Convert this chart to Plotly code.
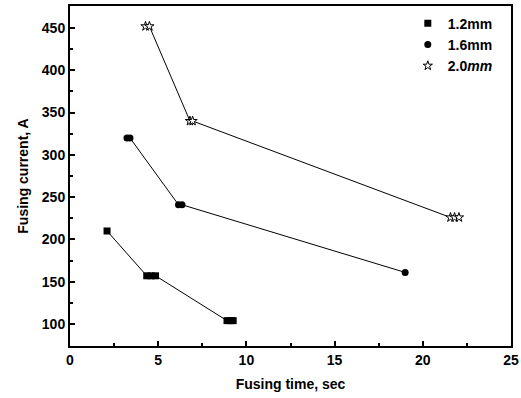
import plotly.graph_objects as go

# Data (fusing time in sec, fusing current in A)
t_12 = [2.1, 4.35, 4.6, 4.85, 8.9, 9.1, 9.25]
i_12 = [210, 157, 157, 157, 104, 104, 104]

t_16 = [3.23, 3.4, 6.15, 6.35, 19.0]
i_16 = [320, 320, 241, 241, 161]

t_20 = [4.28, 4.5, 6.8, 6.95, 21.57, 21.8, 22.05]
i_20 = [452, 452, 340, 340, 226, 226, 226]

names = ["1.2mm", "1.6mm", "2.0<i>mm</i>"]
x_ticks = [0, 5, 10, 15, 20, 25]
y_ticks = [100, 150, 200, 250, 300, 350, 400, 450]

series = [
    (t_12, i_12, names[0], dict(symbol="square", size=7, color="black")),
    (t_16, i_16, names[1], dict(symbol="circle", size=7, color="black")),
    (t_20, i_20, names[2], dict(symbol="star", size=7, color="white",
                                line=dict(color="black", width=1))),
]

fig = go.Figure()
for xs, ys, nm, mk in series:
    fig.add_trace(go.Scatter(x=xs, y=ys, mode="lines", showlegend=False,
                             line=dict(color="black", width=1), hoverinfo="skip"))
for xs, ys, nm, mk in series:
    fig.add_trace(go.Scatter(x=xs, y=ys, mode="markers", name=nm, marker=mk))

font = dict(family="Liberation Sans, Arial, sans-serif", size=14, color="black", weight="bold")

fig.update_layout(
    width=521, height=398,
    margin=dict(l=70, r=10, t=6, b=52),
    paper_bgcolor="white", plot_bgcolor="white",
    font=font,
    legend=dict(x=0.766, y=0.995, xanchor="left", yanchor="top",
                bgcolor="rgba(0,0,0,0)", font=font, itemwidth=30,
                tracegroupgap=0),
    showlegend=True,
)
fig.update_xaxes(range=[0, 25], tickvals=x_ticks, ticks="inside", ticklen=5,
                 tickcolor="black", tickwidth=1.5, automargin=False,
                 showline=True, linecolor="black", linewidth=2, mirror=True,
                 showgrid=False, zeroline=False, tickfont=font,
                 minor=dict(ticks="inside", ticklen=3, dtick=2.5, tickcolor="black", showgrid=False),
                 title=dict(text="Fusing time, sec", font=font, standoff=12))
fig.update_yaxes(range=[74, 476], tickvals=y_ticks, ticks="inside", ticklen=5,
                 tickcolor="black", tickwidth=1.5, automargin=False,
                 showline=True, linecolor="black", linewidth=2, mirror=True,
                 showgrid=False, zeroline=False, tickfont=font,
                 minor=dict(ticks="inside", ticklen=3, dtick=25, tickcolor="black", showgrid=False),
                 title=dict(text="Fusing current, A", font=font, standoff=10))

fig.write_html("out.html", config={"displayModeBar": False},
               post_script="document.body.style.margin='0';document.body.style.overflow='hidden';")
